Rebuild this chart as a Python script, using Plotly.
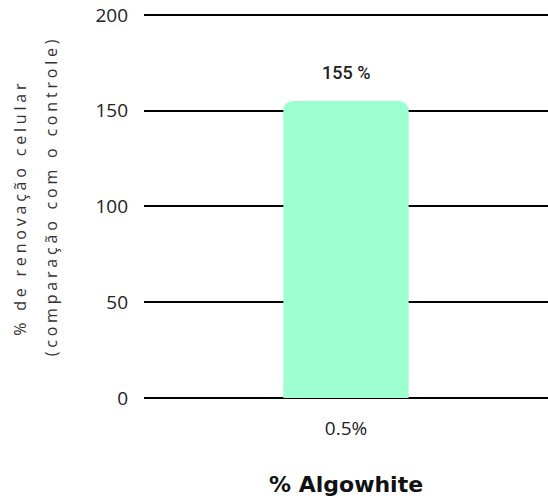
import plotly.graph_objects as go

categories = ["0.5%"]
values = [155]
bar_labels = ["155 %"]
y_ticks = [0, 50, 100, 150, 200]
y_title_lines = ["% de renovação celular", "(comparação com o controle)"]
x_title = "% Algowhite"

fig = go.Figure()
fig.add_trace(go.Bar(
    x=categories, y=values,
    marker=dict(color="#9dffd0", line=dict(width=0), cornerradius=9),
    width=0.31,
))
fig.add_annotation(x=categories[0], y=values[0], text=bar_labels[0],
                   xref="x", yref="y", yshift=29, showarrow=False,
                   xanchor="center", yanchor="middle",
                   font=dict(family="Roboto", size=18, color="#222222", weight=500))

fig.update_layout(
    width=548, height=500,
    margin=dict(l=144, r=0, t=13, b=102, autoexpand=False),
    plot_bgcolor="white", paper_bgcolor="white",
    showlegend=False,
    font=dict(family="Open Sans", color="#222222"),
)
fig.update_yaxes(
    range=[0, 201], tickvals=y_ticks, automargin=False,
    showgrid=True, gridcolor="black", gridwidth=2,
    zeroline=True, zerolinecolor="black", zerolinewidth=2,
    showline=False, ticks="", ticklabelstandoff=15,
    tickfont=dict(family="Open Sans", size=19, color="#222222"),
)
fig.update_xaxes(
    showline=False, ticks="", ticklabelstandoff=17, automargin=False,
    tickfont=dict(family="Open Sans", size=19, color="#222222"),
)

fig.add_annotation(text=y_title_lines[0], xref="paper", yref="paper",
                   x=0, y=0, xshift=-124, yshift=190, textangle=-90,
                   showarrow=False, xanchor="center", yanchor="middle",
                   font=dict(family="Open Sans", size=16, color="#333333"))
fig.add_annotation(text=y_title_lines[1], xref="paper", yref="paper",
                   x=0, y=0, xshift=-93, yshift=202, textangle=-90,
                   showarrow=False, xanchor="center", yanchor="middle",
                   font=dict(family="Open Sans", size=16, color="#333333"))
fig.add_annotation(text="<b>" + x_title + "</b>", xref="paper", yref="paper",
                   x=0.5, y=0, yshift=-86, showarrow=False,
                   xanchor="center", yanchor="middle",
                   font=dict(family="DejaVu Sans", size=22, color="#111111"))

post = """
document.body.style.margin = '0';
document.body.style.padding = '0';
document.querySelectorAll('g.annotation text').forEach(function(t){
  var s = t.textContent;
  if (s.indexOf('renova') >= 0 || s.indexOf('compara') >= 0) {
    t.style.letterSpacing = '3.8px';
  }
});
"""
fig.write_html("out.html", post_script=post, config={"displayModeBar": False})
